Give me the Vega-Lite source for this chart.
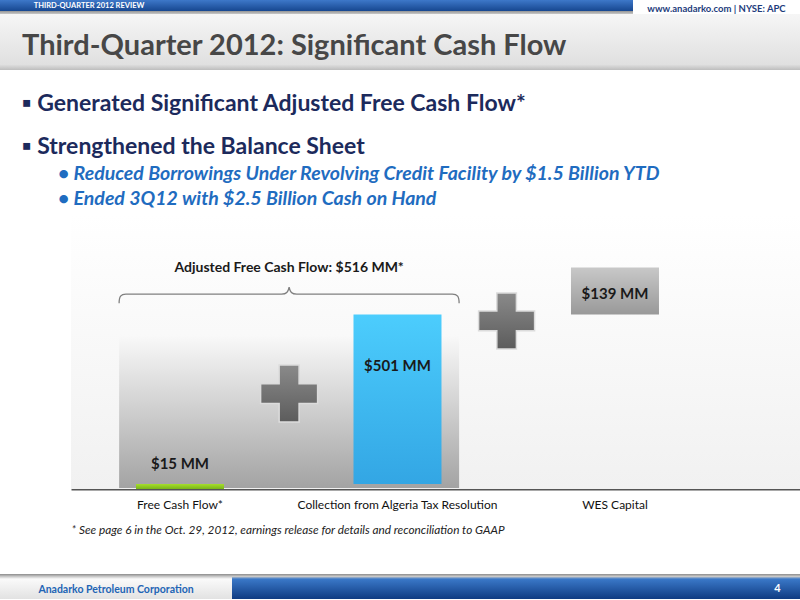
{
  "$schema": "https://vega.github.io/schema/vega-lite/v6.json",
  "padding": 0,
  "spacing": 0,
  "background": "white",
  "config": {"view": {"stroke": null}, "font": "Lato", "concat": {"spacing": 0},
    "axisX": {"titleFont": "Lato", "titleFontStyle": "italic", "titleFontWeight": "normal", "titleFontSize": 11.8, "titleColor": "#222222", "titleAnchor": "start", "titleAlign": "left", "titlePadding": 14,
      "labelFont": "Lato", "labelFontSize": 12, "labelColor": "#111111", "labelPadding": 10, "labelAngle": 0, "labelLimit": 400, "ticks": false, "domainColor": "#555555", "domainWidth": 2}},
  "vconcat": [
    {
      "spacing": 0,
      "hconcat": [
        {
          "width": 178, "height": 14,
          "data": {"values": [{"label": "THIRD-QUARTER 2012 REVIEW"}]},
          "layer": [
            {"mark": {"type": "rect", "fill": {"gradient": "linear", "x1": 0, "y1": 0, "x2": 0, "y2": 1, "stops": [{"offset": 0, "color": "#3d78c9"}, {"offset": 0.8, "color": "#16468f"}, {"offset": 0.81, "color": "#9a9a9a"}, {"offset": 1, "color": "#c8c8c8"}]}}, "encoding": {}},
            {"mark": {"type": "text", "color": "white", "fontWeight": "bold", "fontSize": 7.5, "baseline": "middle", "dy": -1.5}, "encoding": {"text": {"field": "label"}}}
          ]
        },
        {
          "width": 455, "height": 14,
          "data": {"values": [{}]},
          "mark": {"type": "rect", "fill": {"gradient": "linear", "x1": 0, "y1": 0, "x2": 0, "y2": 1, "stops": [{"offset": 0, "color": "#3d78c9"}, {"offset": 0.8, "color": "#16468f"}, {"offset": 0.81, "color": "#9a9a9a"}, {"offset": 1, "color": "#c8c8c8"}]}},
          "encoding": {}
        },
        {
          "width": 167, "height": 14,
          "data": {"values": [{"label": "www.anadarko.com | NYSE: APC"}]},
          "layer": [
            {"mark": {"type": "rect", "fill": "#ffffff"}, "encoding": {}},
            {"mark": {"type": "text", "color": "#1d3c7c", "fontWeight": "bold", "fontSize": 9.5, "baseline": "middle", "dy": 2}, "encoding": {"text": {"field": "label"}}}
          ]
        }
      ]
    },
    {
      "width": 800, "height": 56,
      "data": {"values": [{"level": 1, "label": "Third-Quarter 2012: Significant Cash Flow"}]},
      "layer": [
        {"mark": {"type": "rect", "fill": {"gradient": "linear", "x1": 0, "y1": 0, "x2": 0, "y2": 1, "stops": [{"offset": 0, "color": "#f6f6f6"}, {"offset": 0.9, "color": "#e0e0e0"}, {"offset": 1, "color": "#bdbdbd"}]}}, "encoding": {}},
        {
          "mark": {"type": "text", "align": "left", "baseline": "alphabetic", "dy": 13, "fontSize": 29, "fontWeight": "bold", "color": "#474747"},
          "encoding": {
            "x": {"field": "level", "type": "ordinal", "scale": {"type": "point", "domain": [1, 2], "range": [22, 58], "padding": 0}, "axis": null},
            "text": {"field": "label"}
          }
        }
      ]
    },
    {
      "width": 800, "height": 145,
      "data": {"values": [
        {"level": 1, "row": 1, "text": "▪ Generated Significant Adjusted Free Cash Flow*"},
        {"level": 1, "row": 2, "text": "▪ Strengthened the Balance Sheet"},
        {"level": 2, "row": 1, "text": "• Reduced Borrowings Under Revolving Credit Facility by $1.5 Billion YTD"},
        {"level": 2, "row": 2, "text": "• Ended 3Q12 with $2.5 Billion Cash on Hand"}
      ]},
      "layer": [
        {
          "transform": [{"filter": "datum.level === 1"}],
          "mark": {"type": "text", "align": "left", "baseline": "alphabetic", "fontSize": 23, "fontWeight": "bold", "color": "#1c2a5c"},
          "encoding": {
            "x": {"field": "level", "type": "ordinal", "scale": {"type": "point", "domain": [1, 2], "range": [22, 58], "padding": 0}, "axis": null},
            "y": {"field": "row", "type": "ordinal", "scale": {"type": "point", "domain": [1, 2], "range": [41, 84], "padding": 0}, "axis": null},
            "text": {"field": "text"}
          }
        },
        {
          "transform": [{"filter": "datum.level === 2"}],
          "mark": {"type": "text", "align": "left", "baseline": "alphabetic", "fontSize": 19.5, "fontWeight": "bold", "fontStyle": "italic", "color": "#1f6cc0"},
          "encoding": {
            "x": {"field": "level", "type": "ordinal", "scale": {"type": "point", "domain": [1, 2], "range": [22, 58], "padding": 0}, "axis": null},
            "y": {"field": "row", "type": "ordinal", "scale": {"type": "point", "domain": [1, 2], "range": [110, 135], "padding": 0}, "axis": null},
            "text": {"field": "text"}
          }
        }
      ],
      "resolve": {"scale": {"y": "independent"}}
    },
    {
      "spacing": 0,
      "hconcat": [
        {"width": 71, "height": 274, "data": {"values": []}, "mark": "point"},
        {
          "width": 729, "height": 274,
          "data": {"values": [
            {"category": "Free Cash Flow*", "start": 0, "end": 15, "label": "$15 MM"},
            {"category": "Collection from Algeria Tax Resolution", "start": 15, "end": 516, "label": "$501 MM"},
            {"category": "WES Capital", "start": 516, "end": 655, "label": "$139 MM"}
          ]},
          "layer": [
            {
              "data": {"values": [{}]},
              "mark": {"type": "rect", "fill": {"gradient": "linear", "x1": 0, "y1": 0, "x2": 0, "y2": 1, "stops": [{"offset": 0, "color": "#ffffff"}, {"offset": 1, "color": "#f1f1f1"}]}},
              "encoding": {}
            },
            {
              "data": {"values": [{"part": "adjusted free cash flow group"}]},
              "mark": {"type": "point", "shape": "M-1,-0.45 L1,-0.45 L1,0.45 L-1,0.45 Z", "size": 115600, "filled": true, "opacity": 1, "strokeWidth": 0,
                "fill": {"gradient": "linear", "x1": 0, "y1": 0, "x2": 0, "y2": 1, "stops": [{"offset": 0, "color": "#f9f9f9"}, {"offset": 1, "color": "#a3a3a3"}]}},
              "encoding": {
                "x": {"datum": "Free Cash Flow*", "type": "nominal", "bandPosition": 1.74, "title": "* See page 6 in the Oct. 29, 2012, earnings release for details and reconciliation to GAAP", "scale": {"type": "band", "domain": ["Free Cash Flow*", "Collection from Algeria Tax Resolution", "WES Capital"], "paddingInner": 0.5954, "paddingOuter": 0.4736, "align": 0.3155}},
                "y": {"datum": 229, "type": "quantitative", "scale": {"domain": [0, 810], "nice": false}, "axis": null}
              }
            },
            {
              "data": {"values": [{"part": "brace"}]},
              "mark": {"type": "point", "shape": "M-1,0.053 C-1,0.012 -0.99,0 -0.96,0 L-0.045,0 C-0.015,0 -0.006,-0.012 0,-0.042 C0.006,-0.012 0.015,0 0.045,0 L0.96,0 C0.99,0 1,0.012 1,0.053", "size": 115600, "filled": false, "opacity": 1, "stroke": "#808080", "strokeWidth": 1.3},
              "encoding": {
                "x": {"datum": "Free Cash Flow*", "type": "nominal", "bandPosition": 1.74, "title": "* See page 6 in the Oct. 29, 2012, earnings release for details and reconciliation to GAAP", "scale": {"type": "band", "domain": ["Free Cash Flow*", "Collection from Algeria Tax Resolution", "WES Capital"], "paddingInner": 0.5954, "paddingOuter": 0.4736, "align": 0.3155}},
                "y": {"datum": 576, "type": "quantitative", "scale": {"domain": [0, 810], "nice": false}, "axis": null}
              }
            },
            {
              "data": {"values": [{"label": "Adjusted Free Cash Flow: $516 MM*"}]},
              "mark": {"type": "text", "fontSize": 14, "fontWeight": "bold", "color": "#1a1a1a", "baseline": "middle"},
              "encoding": {
                "x": {"datum": "Free Cash Flow*", "type": "nominal", "bandPosition": 1.74, "title": "* See page 6 in the Oct. 29, 2012, earnings release for details and reconciliation to GAAP", "scale": {"type": "band", "domain": ["Free Cash Flow*", "Collection from Algeria Tax Resolution", "WES Capital"], "paddingInner": 0.5954, "paddingOuter": 0.4736, "align": 0.3155}},
                "y": {"datum": 653, "type": "quantitative", "scale": {"domain": [0, 810], "nice": false}, "axis": null},
                "text": {"field": "label"}
              }
            },
            {
              "mark": {"type": "bar"},
              "encoding": {
                "x": {"field": "category", "type": "nominal", "title": "* See page 6 in the Oct. 29, 2012, earnings release for details and reconciliation to GAAP", "scale": {"type": "band", "domain": ["Free Cash Flow*", "Collection from Algeria Tax Resolution", "WES Capital"], "paddingInner": 0.5954, "paddingOuter": 0.4736, "align": 0.3155}},
                "y": {"field": "start", "type": "quantitative", "scale": {"domain": [0, 810], "nice": false}, "axis": null},
                "y2": {"field": "end"},
                "fill": {
                  "condition": [
                    {"test": "datum.category === 'Free Cash Flow*'", "value": {"gradient": "linear", "x1": 0, "y1": 0, "x2": 0, "y2": 1, "stops": [{"offset": 0, "color": "#a6df2c"}, {"offset": 1, "color": "#79b51a"}]}},
                    {"test": "datum.category === 'WES Capital'", "value": {"gradient": "linear", "x1": 0, "y1": 0, "x2": 0, "y2": 1, "stops": [{"offset": 0, "color": "#c8c8c8"}, {"offset": 1, "color": "#999999"}]}}
                  ],
                  "value": {"gradient": "linear", "x1": 0, "y1": 0, "x2": 0, "y2": 1, "stops": [{"offset": 0, "color": "#4ccdfd"}, {"offset": 1, "color": "#33a6e4"}]}
                }
              }
            },
            {
              "transform": [{"filter": "datum.category === 'Free Cash Flow*'"}],
              "mark": {"type": "text", "fontSize": 15, "fontWeight": "bold", "color": "#1a1a1a", "baseline": "middle", "dy": -20},
              "encoding": {
                "x": {"field": "category", "type": "nominal", "title": "* See page 6 in the Oct. 29, 2012, earnings release for details and reconciliation to GAAP", "scale": {"type": "band", "domain": ["Free Cash Flow*", "Collection from Algeria Tax Resolution", "WES Capital"], "paddingInner": 0.5954, "paddingOuter": 0.4736, "align": 0.3155}},
                "y": {"field": "end", "type": "quantitative", "scale": {"domain": [0, 810], "nice": false}, "axis": null},
                "text": {"field": "label"}
              }
            },
            {
              "transform": [{"filter": "datum.category === 'Collection from Algeria Tax Resolution'"}],
              "mark": {"type": "text", "fontSize": 15, "fontWeight": "bold", "color": "#1a1a1a", "baseline": "middle", "dy": 52},
              "encoding": {
                "x": {"field": "category", "type": "nominal", "title": "* See page 6 in the Oct. 29, 2012, earnings release for details and reconciliation to GAAP", "scale": {"type": "band", "domain": ["Free Cash Flow*", "Collection from Algeria Tax Resolution", "WES Capital"], "paddingInner": 0.5954, "paddingOuter": 0.4736, "align": 0.3155}},
                "y": {"field": "end", "type": "quantitative", "scale": {"domain": [0, 810], "nice": false}, "axis": null},
                "text": {"field": "label"}
              }
            },
            {
              "transform": [{"filter": "datum.category === 'WES Capital'"}],
              "mark": {"type": "text", "fontSize": 15, "fontWeight": "bold", "color": "#1a1a1a", "baseline": "middle", "dy": 27},
              "encoding": {
                "x": {"field": "category", "type": "nominal", "title": "* See page 6 in the Oct. 29, 2012, earnings release for details and reconciliation to GAAP", "scale": {"type": "band", "domain": ["Free Cash Flow*", "Collection from Algeria Tax Resolution", "WES Capital"], "paddingInner": 0.5954, "paddingOuter": 0.4736, "align": 0.3155}},
                "y": {"field": "end", "type": "quantitative", "scale": {"domain": [0, 810], "nice": false}, "axis": null},
                "text": {"field": "label"}
              }
            },
            {
              "data": {"values": [{"sign": "plus"}]},
              "mark": {"type": "point", "shape": "M-1,-0.35 L-0.35,-0.35 L-0.35,-1 L0.35,-1 L0.35,-0.35 L1,-0.35 L1,0.35 L0.35,0.35 L0.35,1 L-0.35,1 L-0.35,0.35 L-1,0.35 Z", "size": 3249, "filled": true, "opacity": 1, "stroke": "#dcdcdc", "strokeWidth": 1.5,
                "fill": {"gradient": "linear", "x1": 0, "y1": 0, "x2": 0, "y2": 1, "stops": [{"offset": 0, "color": "#8a8a8a"}, {"offset": 1, "color": "#5c5c5c"}]}},
              "encoding": {
                "x": {"datum": "Free Cash Flow*", "type": "nominal", "bandPosition": 1.74, "title": "* See page 6 in the Oct. 29, 2012, earnings release for details and reconciliation to GAAP", "scale": {"type": "band", "domain": ["Free Cash Flow*", "Collection from Algeria Tax Resolution", "WES Capital"], "paddingInner": 0.5954, "paddingOuter": 0.4736, "align": 0.3155}},
                "y": {"datum": 282, "type": "quantitative", "scale": {"domain": [0, 810], "nice": false}, "axis": null}
              }
            },
            {
              "data": {"values": [{"sign": "plus"}]},
              "mark": {"type": "point", "shape": "M-1,-0.35 L-0.35,-0.35 L-0.35,-1 L0.35,-1 L0.35,-0.35 L1,-0.35 L1,0.35 L0.35,0.35 L0.35,1 L-0.35,1 L-0.35,0.35 L-1,0.35 Z", "size": 3136, "filled": true, "opacity": 1, "stroke": "#dcdcdc", "strokeWidth": 1.5,
                "fill": {"gradient": "linear", "x1": 0, "y1": 0, "x2": 0, "y2": 1, "stops": [{"offset": 0, "color": "#8a8a8a"}, {"offset": 1, "color": "#5c5c5c"}]}},
              "encoding": {
                "x": {"datum": "Collection from Algeria Tax Resolution", "type": "nominal", "bandPosition": 1.74, "title": "* See page 6 in the Oct. 29, 2012, earnings release for details and reconciliation to GAAP", "scale": {"type": "band", "domain": ["Free Cash Flow*", "Collection from Algeria Tax Resolution", "WES Capital"], "paddingInner": 0.5954, "paddingOuter": 0.4736, "align": 0.3155}},
                "y": {"datum": 497, "type": "quantitative", "scale": {"domain": [0, 810], "nice": false}, "axis": null}
              }
            }
          ]
        }
      ]
    },
    {"width": 800, "height": 38, "data": {"values": []}, "mark": "point"},
    {
      "spacing": 0,
      "hconcat": [
        {
          "width": 232, "height": 25,
          "data": {"values": [{"label": "Anadarko Petroleum Corporation"}]},
          "layer": [
            {"mark": {"type": "rect", "fill": {"gradient": "linear", "x1": 0, "y1": 0, "x2": 0, "y2": 1, "stops": [{"offset": 0, "color": "#8c8c8c"}, {"offset": 0.1, "color": "#c8c8c8"}, {"offset": 0.2, "color": "#fafafa"}, {"offset": 1, "color": "#e2e2e2"}]}}, "encoding": {}},
            {"mark": {"type": "text", "color": "#2264b5", "fontWeight": "bold", "fontSize": 10.5, "baseline": "middle", "dy": 3}, "encoding": {"text": {"field": "label"}}}
          ]
        },
        {
          "width": 523, "height": 25,
          "data": {"values": [{}]},
          "mark": {"type": "rect", "fill": {"gradient": "linear", "x1": 0, "y1": 0, "x2": 0, "y2": 1, "stops": [{"offset": 0, "color": "#8c8c8c"}, {"offset": 0.1, "color": "#c8c8c8"}, {"offset": 0.2, "color": "#3a78c8"}, {"offset": 1, "color": "#0f3b82"}]}},
          "encoding": {}
        },
        {
          "width": 45, "height": 25,
          "data": {"values": [{"label": "4"}]},
          "layer": [
            {"mark": {"type": "rect", "fill": {"gradient": "linear", "x1": 0, "y1": 0, "x2": 0, "y2": 1, "stops": [{"offset": 0, "color": "#8c8c8c"}, {"offset": 0.1, "color": "#c8c8c8"}, {"offset": 0.2, "color": "#3a78c8"}, {"offset": 1, "color": "#0f3b82"}]}}, "encoding": {}},
            {"mark": {"type": "text", "color": "white", "fontWeight": "bold", "fontSize": 11, "baseline": "middle", "dy": 2}, "encoding": {"text": {"field": "label"}}}
          ]
        }
      ]
    }
  ]
}
